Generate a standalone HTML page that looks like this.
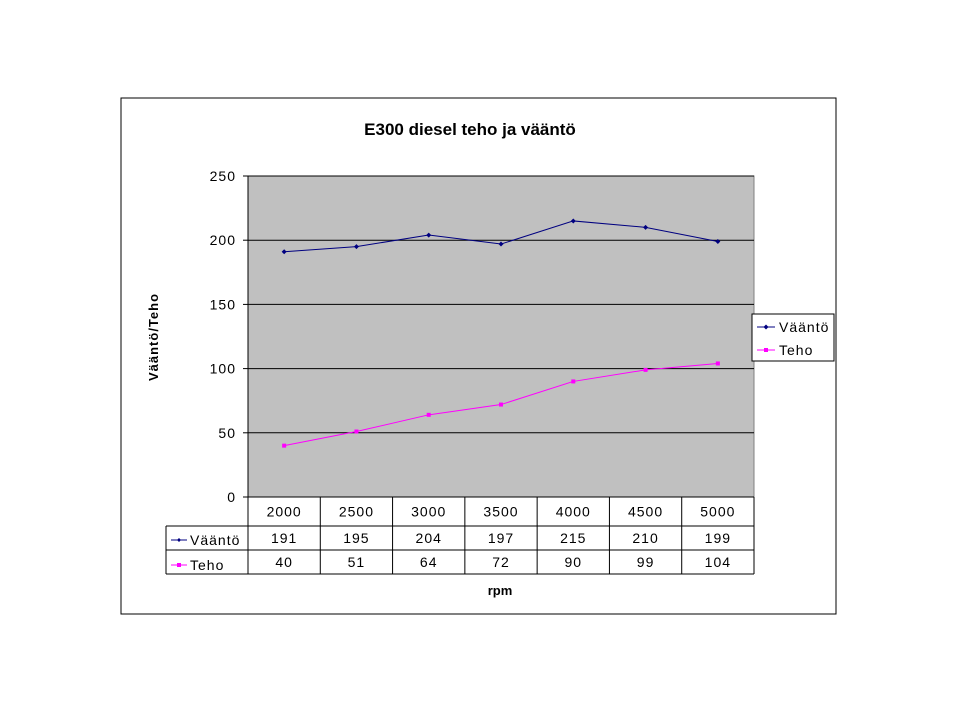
<!DOCTYPE html>
<html><head><meta charset="utf-8"><style>
body{margin:0;background:#fff;}
svg text{font-family:"Liberation Sans",Arial,sans-serif;}
</style></head><body>
<svg width="960" height="720" xmlns="http://www.w3.org/2000/svg">
<rect x="121" y="98" width="715" height="516" fill="#fff" stroke="#000" stroke-width="1"/>
<text x="470" y="135" font-size="17" font-weight="bold" text-anchor="middle">E300 diesel teho ja vääntö</text>
<g id="plot"></g>
<text x="0" y="0" font-size="13" font-weight="bold" text-anchor="middle" letter-spacing="1" transform="translate(158,337) rotate(-90)">Vääntö/Teho</text>
<text x="500" y="595" font-size="13" font-weight="bold" text-anchor="middle">rpm</text>
<g>
<rect x="752" y="314" width="82" height="47" fill="#fff" stroke="#000"/>
<g>
<line x1="757" y1="327" x2="775" y2="327" stroke="#000080"/><path d="M766 324.5 L768.5 327 L766 329.5 L763.5 327Z" fill="#000080"/>
<text x="779" y="332" font-size="14" letter-spacing="1">Vääntö</text></g>
<g>
<line x1="757" y1="350" x2="775" y2="350" stroke="#ff00ff"/><rect x="764" y="348" width="4" height="4" fill="#ff00ff"/>
<text x="779" y="355" font-size="14" letter-spacing="1">Teho</text></g>
</g>
</svg>
<script>
const categories=["2000","2500","3000","3500","4000","4500","5000"];
const vaanto=[191,195,204,197,215,210,199];
const teho=[40,51,64,72,90,99,104];
const yTicks=[0,50,100,150,200,250];
const NS="http://www.w3.org/2000/svg";
const L=248,R=754,T=176,B=497,yMax=250;
const cw=(R-L)/categories.length;
const xs=i=>L+cw*(i+0.5);
const ys=v=>B-(v/yMax)*(B-T);
const g=document.getElementById('plot');
function mk(tag,attrs,parent){const e=document.createElementNS(NS,tag);for(const k in attrs)e.setAttribute(k,attrs[k]);(parent||g).appendChild(e);return e;}
const bg=mk('rect',{x:L,y:T,width:R-L,height:B-T,fill:'#c0c0c0',stroke:'#808080'});


yTicks.forEach(t=>{
  const y=ys(t);
  if(t>0){const gl=mk('line',{x1:L,x2:R,y1:y,y2:y,stroke:'#000'});
  
  }
  mk('line',{x1:L-5,x2:L,y1:y,y2:y,stroke:'#000'});
  const tx=mk('text',{x:L-12,y:y+5,'font-size':14,'text-anchor':'end','letter-spacing':1});
  tx.textContent=t;
  
  
});
mk('line',{x1:L,x2:L,y1:T,y2:B,stroke:'#000'});
function series(vals,color,name,sq){
  const p=mk('polyline',{points:vals.map((v,i)=>xs(i)+','+ys(v)).join(' '),fill:'none',stroke:color,'stroke-width':1});
  
  
  vals.forEach((v,i)=>{const x=xs(i),y=ys(v);
    const m=sq?mk('rect',{x:x-2,y:y-2,width:4,height:4,fill:color}):mk('path',{d:`M${x} ${y-2.5}L${x+2.5} ${y}L${x} ${y+2.5}L${x-2.5} ${y}Z`,fill:color});
    
    });
}
series(vaanto,'#000080','vaanto',false);
series(teho,'#ff00ff','teho',true);
// data table
const tb=[B,526,550,574];
const TL=166;
mk('line',{x1:L,x2:R,y1:B,y2:B,stroke:'#000'});
for(let r=1;r<4;r++){mk('line',{x1:TL,x2:R,y1:tb[r],y2:tb[r],stroke:'#000'});}
mk('line',{x1:TL,x2:TL,y1:tb[1],y2:tb[3],stroke:'#000'});
for(let i=0;i<=categories.length;i++){mk('line',{x1:L+cw*i,x2:L+cw*i,y1:B,y2:tb[3],stroke:'#000'});}
const rows=[categories,vaanto,teho];
rows.forEach((row,r)=>row.forEach((v,i)=>{
  const t=mk('text',{x:xs(i),y:(tb[r]+tb[r+1])/2+5,'font-size':14,'text-anchor':'middle','letter-spacing':1});
  t.textContent=v;
  
  
}));
mk('line',{x1:171,x2:187,y1:540,y2:540,stroke:'#000080'});
mk('path',{d:'M179 538 L181 540 L179 542 L177 540Z',fill:'#000080'});
const a=mk('text',{x:190,y:545,'font-size':14,'letter-spacing':1});a.textContent='Vääntö';


mk('line',{x1:171,x2:187,y1:565,y2:565,stroke:'#ff00ff'});
mk('rect',{x:177,y:563,width:4,height:4,fill:'#ff00ff'});
const b=mk('text',{x:190,y:570,'font-size':14,'letter-spacing':1});b.textContent='Teho';


</script>
</body></html>
